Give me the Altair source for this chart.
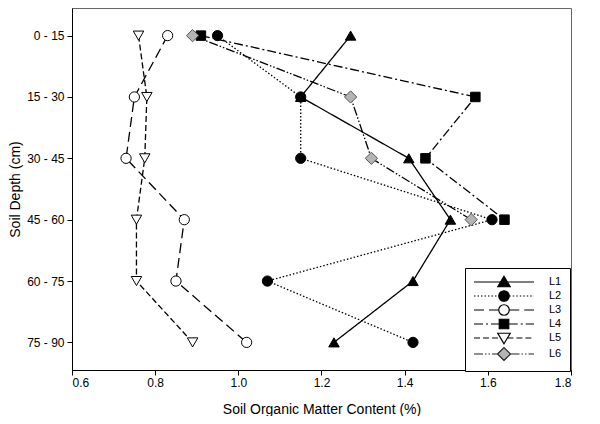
import altair as alt
import pandas as pd

depths = ["0 - 15", "15 - 30", "30 - 45", "45 - 60", "60 - 75", "75 - 90"]
series = ["L1", "L2", "L3", "L4", "L5", "L6"]
L1 = [1.27, 1.15, 1.41, 1.51, 1.42, 1.23]
L2 = [0.95, 1.15, 1.15, 1.61, 1.07, 1.42]
L3 = [0.83, 0.75, 0.73, 0.87, 0.85, 1.02]
L4 = [0.91, 1.57, 1.45, 1.64]
L5 = [0.76, 0.78, 0.775, 0.755, 0.755, 0.89]
L6 = [0.89, 1.27, 1.32, 1.56]
x_ticks = [0.6, 0.8, 1.0, 1.2, 1.4, 1.6, 1.8]

values = {"L1": L1, "L2": L2, "L3": L3, "L4": L4, "L5": L5, "L6": L6}
rows = []
for s in series:
    for i, v in enumerate(values[s]):
        rows.append({"series": s, "depth": depths[i], "idx": i, "som": v})
df = pd.DataFrame(rows)

# styles
fills = ["black", "black", "white", "black", "white", "#b4b4b4"]
strokes = ["black", "black", "black", "black", "black", "#555555"]
legend_strokes = ["black", "black", "black", "black", "black", "#222222"]
shapes = ["triangle-up", "circle", "circle", "square", "triangle-down", "diamond"]
sizes = [110, 105, 105, 90, 110, 150]
dashes = [[1, 0], [1.5, 2], [10, 5], [9, 3, 2, 3], [6, 3], [9, 2, 1.5, 2, 1.5, 2]]

# legend symbols: custom paths (unit = sqrt(size)/2 = 5px) with drawn dash segments + marker
U = 5.0


def seg_path(a, b, pattern):
    if pattern == [1, 0]:
        return f"M{a:.2f},0H{b:.2f}"
    out = []
    x = a
    i = 0
    while x < b - 1e-6:
        L = pattern[i % len(pattern)] / U
        if i % 2 == 0:
            out.append(f"M{x:.2f},0H{min(x + L, b):.2f}")
        x += L
        i += 1
    return "".join(out)


markers = [
    ("M0,-1.15L1.25,0.95L-1.25,0.95Z", 0.68),
    ("M-1.05,0A1.05,1.05,0,1,1,1.05,0A1.05,1.05,0,1,1,-1.05,0Z", 1.05),
    ("M-1.05,0A1.05,1.05,0,1,1,1.05,0A1.05,1.05,0,1,1,-1.05,0Z", 1.05),
    ("M-0.95,-0.95H0.95V0.95H-0.95Z", 0.95),
    ("M0,1.15L1.25,-0.95L-1.25,-0.95Z", 0.68),
    ("M-1.3,0L0,-1.3L1.3,0L0,1.3Z", 1.3),
]
legend_paths = []
for (mp, m), d in zip(markers, dashes):
    legend_paths.append(seg_path(-6.0, -m, d) + seg_path(m, 6.0, d) + mp)

FONT = "Liberation Sans"

x_enc = alt.X(
    "som:Q",
    scale=alt.Scale(domain=[0.6, 1.8], nice=False, zero=False),
    axis=alt.Axis(values=x_ticks, format=".1f", title="Soil Organic Matter Content (%)",
                  titlePadding=14),
)
y_enc = alt.Y(
    "depth:O",
    sort=depths,
    scale=alt.Scale(type="point", padding=0.45),
    axis=alt.Axis(title="Soil Depth (cm)", labelPadding=3, titlePadding=4),
)

line_layers = []
point_layers = []
for s, shp, f, st, sz, d in zip(series, shapes, fills, strokes, sizes, dashes):
    base = alt.Chart(df).transform_filter(alt.datum.series == s)
    line_layers.append(
        base.mark_line(stroke="black", strokeWidth=1.3, strokeDash=d)
        .encode(x=x_enc, y=y_enc, order="idx:Q")
    )
    point_layers.append(
        base.mark_point(shape=shp, filled=True, fill=f, stroke=st, strokeWidth=1, size=sz, opacity=1)
        .encode(x=x_enc, y=y_enc)
    )

leg = alt.Legend(
    title=None, orient="none", legendX=393, legendY=260,
    strokeColor="black", fillColor="white", padding=8, rowPadding=-2,
    symbolSize=100, symbolStrokeWidth=1.2, symbolOpacity=1,
    symbolOffset=25, labelOffset=39, labelFontSize=11, labelFont=FONT, labelColor="#000000",
)

legend_layer = alt.Chart(df).mark_point(filled=True, opacity=0).encode(
    x=x_enc,
    y=y_enc,
    shape=alt.Shape("series:N", scale=alt.Scale(domain=series, range=legend_paths), legend=leg),
    fill=alt.Fill("series:N", scale=alt.Scale(domain=series, range=fills), legend=leg),
    stroke=alt.Stroke("series:N", scale=alt.Scale(domain=series, range=legend_strokes), legend=leg),
)

chart = (
    alt.layer(*line_layers, *point_layers, legend_layer)
    .properties(width=499, height=362, padding={"left": 0, "top": 0, "right": 8, "bottom": 0},
                background="white")
    .configure_view(stroke="#666666", strokeWidth=1)
    .configure_axis(
        domainColor="black", tickColor="black", labelColor="black", titleColor="black",
        labelFont=FONT, titleFont=FONT, labelFontSize=12, titleFontSize=14,
        titleFontWeight="normal", grid=False, tickSize=5,
    )
    .configure_legend(labelColor="#000000", labelFont=FONT)
)

chart.save("out.html", embed_options={"renderer": "svg", "actions": False})
